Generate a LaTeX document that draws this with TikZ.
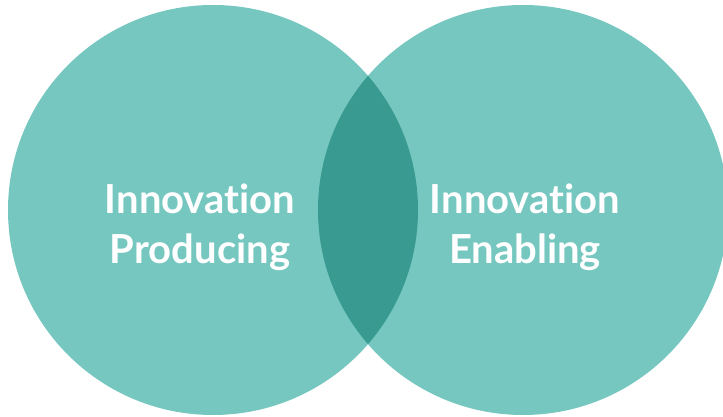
\documentclass[tikz,border=0pt]{standalone}
\usepackage{fontspec}
\setmainfont{Lato}[Ligatures={NoCommon,NoDiscretionary}, RawFeature={-liga,-dlig,-clig}]
\usepackage{tikz}

\definecolor{tealLight}{HTML}{75C7C0}
\definecolor{tealDark}{HTML}{389A90}

\begin{document}
\begin{tikzpicture}[x=1pt, y=1pt,
  label text/.style={text=white, align=center, font=\fontsize{40}{50}\selectfont\bfseries}]

% fix the page size
\useasboundingbox (0, 0) rectangle (723, 417);

% draw both circles
\fill[color=tealLight] (213, 207) circle (205);
\fill[color=tealLight] (523, 207) circle (205);

% draw the overlap
\begin{scope}
  \clip (213, 207) circle (205);
  \fill[color=tealDark] (523, 207) circle (205);
\end{scope}

% draw labels
\node[label text] (producing) at (200, 190) {Innovation\\Producing};
\node[label text] (enabling) at (525, 190) {Innovation\\Enabling};

\end{tikzpicture}
\end{document}
